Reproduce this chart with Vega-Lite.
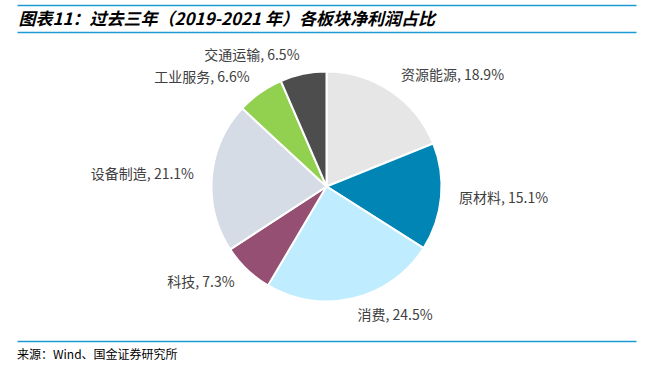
{
  "$schema": "https://vega.github.io/schema/vega-lite/v6.json",
  "autosize": "none",
  "width": 619,
  "height": 309,
  "padding": {"left": 17, "top": 32, "right": 18, "bottom": 25},
  "background": "white",
  "config": {
    "view": {"stroke": null},
    "font": "Noto Sans CJK SC"
  },
  "title": {
    "text": "来源：Wind、国金证券研究所",
    "orient": "bottom",
    "anchor": "start",
    "frame": "group",
    "offset": 9,
    "fontSize": 12,
    "fontWeight": "normal",
    "color": "#000000",
    "font": "Noto Sans CJK SC"
  },
  "data": {
    "values": [
      {"order": 1, "name": "资源能源", "value": 18.9},
      {"order": 2, "name": "原材料", "value": 15.1},
      {"order": 3, "name": "消费", "value": 24.5},
      {"order": 4, "name": "科技", "value": 7.3},
      {"order": 5, "name": "设备制造", "value": 21.1},
      {"order": 6, "name": "工业服务", "value": 6.6},
      {"order": 7, "name": "交通运输", "value": 6.5}
    ]
  },
  "transform": [
    {"calculate": "datum.name + ', ' + format(datum.value, '.1f') + '%'", "as": "label"}
  ],
  "layer": [
    {
      "mark": {"type": "point", "opacity": 0},
      "encoding": {
        "x": {
          "datum": 0.5,
          "type": "quantitative",
          "scale": {"domain": [0, 1]},
          "axis": {
            "orient": "top",
            "offset": 27,
            "domain": true,
            "domainColor": "#1c9ad6",
            "domainWidth": 1.5,
            "ticks": false,
            "labels": false,
            "grid": false,
            "title": "图表11：过去三年（2019-2021 年）各板块净利润占比",
            "titleAnchor": "start",
            "titleAlign": "left",
            "titleX": 1,
            "titleY": 14,
            "titleBaseline": "middle",
            "titleFont": "Noto Sans CJK SC",
            "titleFontSize": 17,
            "titleFontWeight": "bold",
            "titleFontStyle": "italic",
            "titleColor": "#000000"
          }
        },
        "y": {
          "datum": 100,
          "type": "quantitative",
          "scale": {"domain": [0, 309]},
          "axis": {
            "values": [0, 309],
            "grid": true,
            "gridColor": "#1c9ad6",
            "gridWidth": 1.5,
            "gridOpacity": 1,
            "domain": false,
            "ticks": false,
            "labels": false,
            "title": null
          }
        }
      }
    },
    {
      "mark": {"type": "arc", "outerRadius": 115, "stroke": "white", "strokeWidth": 2},
      "encoding": {
        "theta": {"field": "value", "type": "quantitative", "stack": true},
        "order": {"field": "order", "type": "quantitative"},
        "color": {
          "field": "name",
          "type": "nominal",
          "scale": {
            "domain": ["资源能源", "原材料", "消费", "科技", "设备制造", "工业服务", "交通运输"],
            "range": ["#e6e6e6", "#0085b5", "#bfecfe", "#944f72", "#d6dce5", "#92d050", "#4d4d4d"]
          },
          "legend": null
        }
      }
    },
    {
      "mark": {
        "type": "text",
        "radius": 133,
        "fontSize": 14,
        "color": "#404040",
        "baseline": "middle",
        "align": {"expr": "datum.order <= 3 ? 'left' : 'right'"}
      },
      "encoding": {
        "theta": {"field": "value", "type": "quantitative", "stack": true},
        "order": {"field": "order", "type": "quantitative"},
        "text": {"field": "label", "type": "nominal"}
      }
    }
  ]
}
